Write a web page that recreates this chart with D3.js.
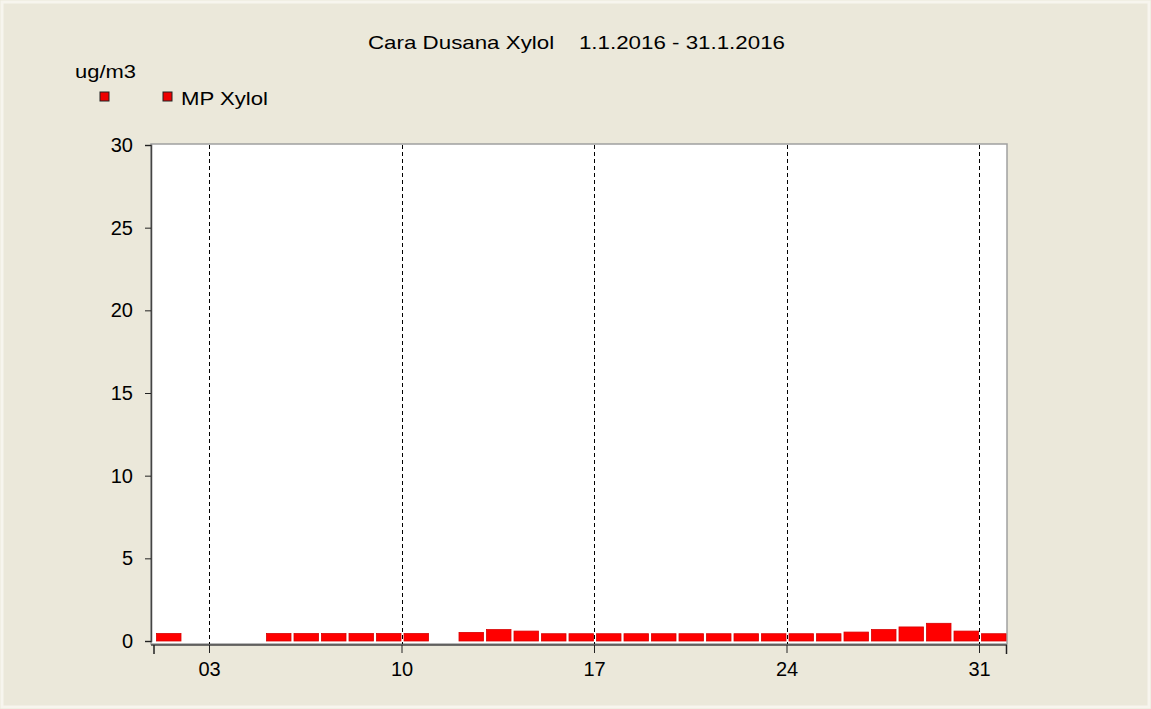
<!DOCTYPE html>
<html>
<head>
<meta charset="utf-8">
<script src="https://cdn.jsdelivr.net/npm/d3@7"></script>
<style>
  html, body { margin: 0; padding: 0; background: #ebe8da; }
  svg { display: block; font-family: Arial, "Liberation Sans", sans-serif; }
</style>
</head>
<body>
<svg id="chart" width="1151" height="709"></svg>
<script>
/* ── Data ─────────────────────────────────────────────────────── */

const titleText = 'Cara Dusana Xylol    1.1.2016 - 31.1.2016';
const unitLabel = 'ug/m3';
const seriesName = 'MP Xylol';

// day of month, January 2016
const days = d3.range(1, 32);
// daily mean, ug/m3 (null = no measurement)
const values = [
  0.45, null, null, null, 0.45, 0.45, 0.45, 0.45, 0.45, 0.45,
  null, 0.52, 0.69, 0.60, 0.44, 0.44, 0.44, 0.44, 0.44, 0.44,
  0.44, 0.44, 0.44, 0.44, 0.44, 0.54, 0.69, 0.85, 1.07, 0.60,
  0.44,
];
const yTicks = [0, 5, 10, 15, 20, 25, 30];
const xTickDays = [3, 10, 17, 24, 31];

/* ── Layout ───────────────────────────────────────────────────── */

const W = 1151, H = 709;
const plot = { left: 151, right: 1007, top: 144, bottom: 644 };

const svg = d3.select('#chart');

svg.append('rect')
  .attr('x', 2).attr('y', 2)
  .attr('width', W - 4).attr('height', H - 4)
  .attr('fill', '#ebe8da')
  .attr('stroke', '#f7f5ee')
  .attr('stroke-width', 3);

const x = d3.scaleTime()
  .domain([new Date(2016, 0, 1), new Date(2016, 1, 1)])
  .range([154, 1006.5]);

const y = d3.scaleLinear()
  .domain([0, 30])
  .range([641, 145]);

/* ── Plot frame ───────────────────────────────────────────────── */

svg.append('rect')
  .attr('x', plot.left).attr('y', plot.top)
  .attr('width', plot.right - plot.left)
  .attr('height', plot.bottom - plot.top)
  .attr('fill', '#ffffff')
  .attr('stroke', '#a0a0a0')
  .attr('stroke-width', 1.5);

/* ── Grid ─────────────────────────────────────────────────────── */

svg.append('g')
  .selectAll('line')
  .data(xTickDays)
  .join('line')
  .attr('x1', d => Math.round(x(new Date(2016, 0, d))) + 0.5)
  .attr('x2', d => Math.round(x(new Date(2016, 0, d))) + 0.5)
  .attr('y1', plot.top + 1)
  .attr('y2', plot.bottom)
  .attr('stroke', '#000')
  .attr('stroke-dasharray', '4,3');

/* ── Bars ─────────────────────────────────────────────────────── */

const barData = days
  .map((d, i) => ({ day: d, value: values[i] }))
  .filter(d => d.value != null);

svg.append('g')
  .selectAll('rect')
  .data(barData)
  .join('rect')
  .attr('x', d => x(new Date(2016, 0, d.day)) + 2.5)
  .attr('width', d => x(new Date(2016, 0, d.day + 1)) - x(new Date(2016, 0, d.day)) - 3)
  .attr('y', d => y(d.value))
  .attr('height', d => y(0) - y(d.value))
  .attr('fill', '#ff0000')
  .attr('stroke', '#d80000')
  .attr('stroke-width', 0.8);

/* ── Axes ─────────────────────────────────────────────────────── */

const yAxis = svg.append('g')
  .attr('transform', `translate(${plot.left},0)`)
  .call(d3.axisLeft(y).tickValues(yTicks).tickSize(6).tickPadding(12));
yAxis.select('.domain').attr('stroke', '#444').attr('stroke-width', 1.5);

const xAxis = svg.append('g')
  .attr('transform', `translate(0,${plot.bottom + 1})`)
  .call(d3.axisBottom(x)
    .tickValues(xTickDays.map(d => new Date(2016, 0, d)))
    .tickFormat(d3.timeFormat('%d'))
    .tickSize(8)
    .tickPadding(9));
xAxis.select('.domain').attr('stroke', '#444').attr('stroke-width', 1.5)
  .attr('d', `M${plot.left},0H${plot.right}`);

// end ticks at the month bounds
xAxis.append('g')
  .selectAll('line')
  .data(x.domain())
  .join('line')
  .attr('x1', d => x(d)).attr('x2', d => x(d))
  .attr('y1', 0).attr('y2', 9)
  .attr('stroke', '#222')
  .attr('stroke-width', 1.5);

for (const ax of [xAxis, yAxis]) {
  ax.attr('font-size', 20);
  ax.selectAll('.tick line').attr('stroke', '#222');
  ax.selectAll('.tick text')
    .attr('fill', '#000')
    .style('font-size', '20px')
    .attr('font-family', 'Arial, "Liberation Sans", sans-serif');
}

/* ── Title & legend ───────────────────────────────────────────── */

svg.append('text')
  .attr('x', 368).attr('y', 49)
  .attr('font-size', 19)
  .attr('fill', '#000')
  .attr('textLength', 417)
  .attr('lengthAdjust', 'spacingAndGlyphs')
  .style('white-space', 'pre')
  .text(titleText);

svg.append('text')
  .attr('x', 75).attr('y', 78)
  .attr('font-size', 18)
  .attr('fill', '#000')
  .attr('textLength', 61)
  .attr('lengthAdjust', 'spacingAndGlyphs')
  .text(unitLabel);

const legendSquares = [100, 163];
svg.append('g')
  .selectAll('rect')
  .data(legendSquares)
  .join('rect')
  .attr('x', d => d).attr('y', 92)
  .attr('width', 9).attr('height', 9)
  .attr('fill', '#ee0000')
  .attr('stroke', '#222')
  .attr('stroke-width', 1);

svg.append('text')
  .attr('x', 181).attr('y', 105)
  .attr('font-size', 19)
  .attr('fill', '#000')
  .attr('textLength', 87)
  .attr('lengthAdjust', 'spacingAndGlyphs')
  .text(seriesName);
</script>
</body>
</html>
